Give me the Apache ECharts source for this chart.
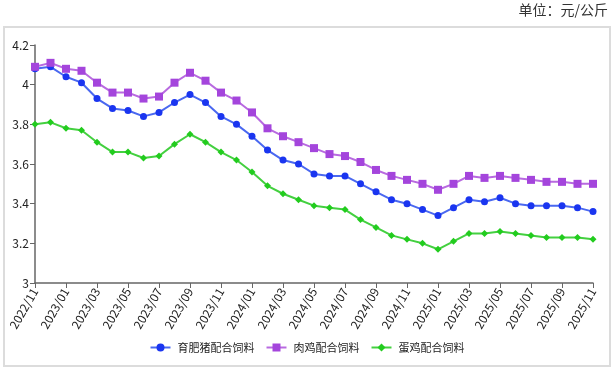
<!DOCTYPE html>
<html><head><meta charset="utf-8">
<script src="https://cdn.jsdelivr.net/npm/echarts@6/dist/echarts.min.js"></script>
<style>html,body{margin:0;padding:0;background:#fff}#c{width:614px;height:371px}</style>
</head><body><div id="c"></div>
<script>
const categories = ["2022/11","2022/12","2023/01","2023/02","2023/03","2023/04","2023/05","2023/06","2023/07","2023/08","2023/09","2023/10","2023/11","2023/12","2024/01","2024/02","2024/03","2024/04","2024/05","2024/06","2024/07","2024/08","2024/09","2024/10","2024/11","2024/12","2025/01","2025/02","2025/03","2025/04","2025/05","2025/06","2025/07","2025/08","2025/09","2025/10","2025/11"];
const pigFeed = [4.08,4.09,4.04,4.01,3.93,3.88,3.87,3.84,3.86,3.91,3.95,3.91,3.84,3.80,3.74,3.67,3.62,3.60,3.55,3.54,3.54,3.50,3.46,3.42,3.40,3.37,3.34,3.38,3.42,3.41,3.43,3.40,3.39,3.39,3.39,3.38,3.36];
const broilerFeed = [4.09,4.11,4.08,4.07,4.01,3.96,3.96,3.93,3.94,4.01,4.06,4.02,3.96,3.92,3.86,3.78,3.74,3.71,3.68,3.65,3.64,3.61,3.57,3.54,3.52,3.50,3.47,3.50,3.54,3.53,3.54,3.53,3.52,3.51,3.51,3.50,3.50];
const layerFeed = [3.80,3.81,3.78,3.77,3.71,3.66,3.66,3.63,3.64,3.70,3.75,3.71,3.66,3.62,3.56,3.49,3.45,3.42,3.39,3.38,3.37,3.32,3.28,3.24,3.22,3.20,3.17,3.21,3.25,3.25,3.26,3.25,3.24,3.23,3.23,3.23,3.22];
const seriesNames = ["育肥猪配合饲料","肉鸡配合饲料","蛋鸡配合饲料"];
const unitText = "单位：元/公斤";

const font = "'Noto Sans CJK SC','Noto Sans',sans-serif";
const chart = echarts.init(document.getElementById('c'), null, {renderer:'canvas'});
function mk(name, data, color, lineColor, symbol, size){
  return {name, type:'line', data, symbol, symbolSize:size, showSymbol:true,
    itemStyle:{color:color}, lineStyle:{color:lineColor, width:2}, emphasis:{disabled:true}};
}
chart.setOption({
  animation:false,
  textStyle:{fontFamily:font},
  graphic:[
    {type:'rect', shape:{x:4,y:27,width:606,height:339}, style:{fill:'none', stroke:'#dcdcdc', lineWidth:2}, silent:true},
    {type:'text', right:6, top:3, style:{text:unitText, fill:'#333', font:"14px "+font}}
  ],
  grid:{left:35, right:21, top:45, bottom:88, containLabel:false},
  legend:{bottom:13, left:'center', itemWidth:20, itemHeight:10, itemGap:11,
    textStyle:{fontSize:11, color:'#222', fontFamily:font, padding:[0,0,0,2]},
    data:seriesNames},
  xAxis:{type:'category', data:categories, boundaryGap:false,
    axisLine:{lineStyle:{color:'#666', width:1.5}},
    axisTick:{interval:1, length:5, lineStyle:{color:'#666'}},
    axisLabel:{interval:1, rotate:60, fontSize:12, color:'#222', margin:6, fontFamily:font}},
  yAxis:{type:'value', min:3, max:4.2, interval:0.2,
    axisLine:{show:true, lineStyle:{color:'#666', width:1.5}},
    axisTick:{show:true, length:5, lineStyle:{color:'#666'}},
    splitLine:{show:false},
    axisLabel:{fontSize:12, color:'#222', margin:6, fontFamily:font,
      formatter:v=>String(Math.round(v*10)/10)}},
  series:[
    mk(seriesNames[0], pigFeed, '#1a35f0', '#4a68f0', 'circle', 7),
    mk(seriesNames[1], broilerFeed, '#a445dc', '#b86ae0', 'rect', 8),
    mk(seriesNames[2], layerFeed, '#22cc1e', '#44d040', 'diamond', 7)
  ]
});
</script></body></html>
